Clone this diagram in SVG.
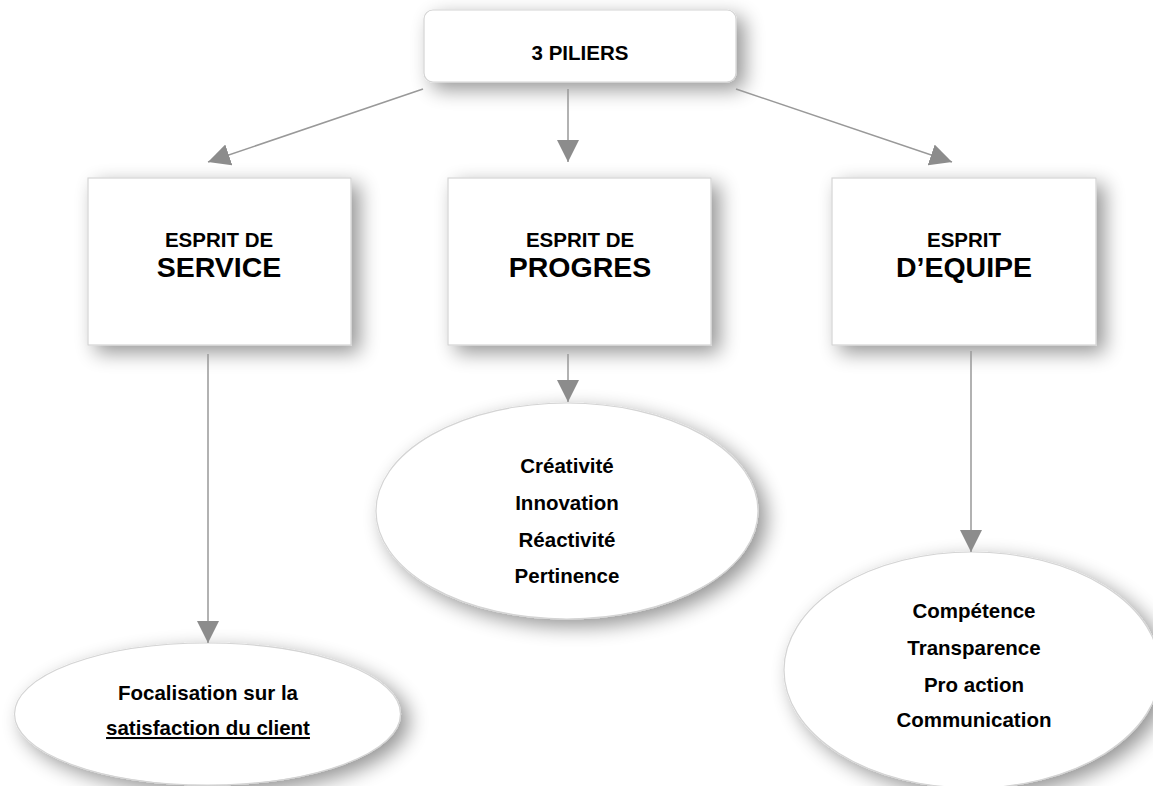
<svg xmlns="http://www.w3.org/2000/svg" width="1153" height="786" viewBox="0 0 1153 786">
<style>
.node{fill:#ffffff;stroke:#d4d4d4;stroke-width:1.2;filter:url(#sh)}
.t{font-family:"Liberation Sans",Arial,sans-serif;font-weight:bold;fill:#000;text-anchor:middle}
.s{font-size:20.5px}
.b{font-size:28.5px}
.c{fill:none;stroke:#999999;stroke-width:1.5}
</style>
<defs>
<filter id="sh" x="-30%" y="-60%" width="170%" height="230%">
<feGaussianBlur in="SourceAlpha" stdDeviation="10"/>
<feOffset dx="8" dy="7" result="b"/>
<feComponentTransfer><feFuncA type="linear" slope="0.42"/></feComponentTransfer>
<feMerge><feMergeNode/><feMergeNode in="SourceGraphic"/></feMerge>
</filter>
<marker id="ah" markerUnits="userSpaceOnUse" markerWidth="22" markerHeight="22" viewBox="0 0 21 21" refX="21" refY="10.5" orient="auto">
<path d="M0,0 L21,10.5 L0,21 z" fill="#8c8c8c"/>
</marker>
</defs>
<rect width="1153" height="786" fill="#ffffff"/>
<g id="root">
<rect class="node" x="424" y="10" width="312" height="72" rx="9"/>
<text class="t s" x="580" y="60">3 PILIERS</text>
</g>
<g id="service">
<rect class="node" x="88" y="178" width="263" height="167"/>
<text class="t s" x="219" y="247">ESPRIT DE</text>
<text class="t b" x="219" y="277">SERVICE</text>
</g>
<g id="progres">
<rect class="node" x="448" y="178" width="263" height="167"/>
<text class="t s" x="580" y="247">ESPRIT DE</text>
<text class="t b" x="580" y="277">PROGRES</text>
</g>
<g id="equipe">
<rect class="node" x="832" y="178" width="264" height="167"/>
<text class="t s" x="964" y="247">ESPRIT</text>
<text class="t b" x="964" y="277">D’EQUIPE</text>
</g>
<g id="satisfaction">
<ellipse class="node" cx="207.5" cy="714" rx="193" ry="71"/>
<text class="t s" x="208" y="700">Focalisation sur la</text>
<text class="t s" x="208" y="735" text-decoration="underline">satisfaction du client</text>
</g>
<g id="qualites-progres">
<ellipse class="node" cx="567" cy="511" rx="191" ry="108"/>
<text class="t s" x="567" y="473">Créativité</text>
<text class="t s" x="567" y="510">Innovation</text>
<text class="t s" x="567" y="547">Réactivité</text>
<text class="t s" x="567" y="583">Pertinence</text>
</g>
<g id="qualites-equipe">
<ellipse class="node" cx="972" cy="670" rx="188" ry="118"/>
<text class="t s" x="974" y="618">Compétence</text>
<text class="t s" x="974" y="655">Transparence</text>
<text class="t s" x="974" y="692">Pro action</text>
<text class="t s" x="974" y="727">Communication</text>
</g>
<g id="connectors">
<path class="c" d="M423,89 L208,162" marker-end="url(#ah)"/>
<path class="c" d="M568,89 L568,162" marker-end="url(#ah)"/>
<path class="c" d="M736,89 L952,162" marker-end="url(#ah)"/>
<path class="c" d="M208,354 L208,643" marker-end="url(#ah)"/>
<path class="c" d="M568,354 L568,402" marker-end="url(#ah)"/>
<path class="c" d="M971,351 L971,552" marker-end="url(#ah)"/>
</g>
</svg>
